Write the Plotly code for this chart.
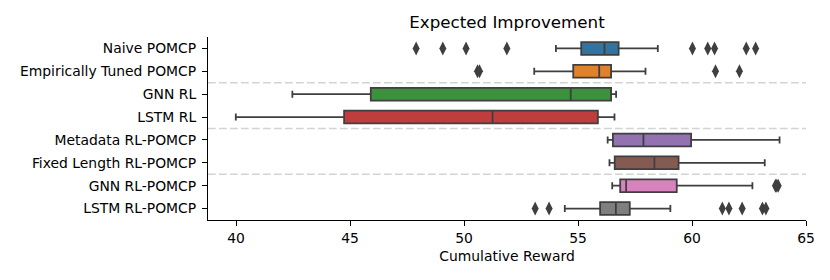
import plotly.graph_objects as go

categories = ["Naive POMCP", "Empirically Tuned POMCP", "GNN RL", "LSTM RL",
              "Metadata RL-POMCP", "Fixed Length RL-POMCP", "GNN RL-POMCP", "LSTM RL-POMCP"]
lower_whisker = [54.03, 53.08, 42.47, 39.99, 56.30, 56.38, 56.50, 54.42]
q1_values = [55.14, 54.79, 45.91, 44.74, 56.53, 56.61, 56.85, 55.97]
median_values = [56.16, 55.93, 54.68, 51.25, 57.87, 58.35, 57.11, 56.66]
q3_values = [56.78, 56.45, 56.45, 55.87, 59.96, 59.41, 59.33, 57.27]
upper_whisker = [58.50, 57.96, 56.67, 56.60, 63.84, 63.19, 62.65, 59.05]

outliers_naive = [47.90, 49.07, 50.09, 51.88, 60.02, 60.69, 60.99, 62.38, 62.79]
outliers_empirical = [50.59, 50.68, 61.03, 62.08]
outliers_gnn_rl = []
outliers_lstm_rl = []
outliers_metadata = []
outliers_fixed = []
outliers_gnn_rlpomcp = [63.66, 63.72, 63.78]
outliers_lstm_rlpomcp = [53.12, 53.73, 61.33, 61.62, 62.20, 63.09, 63.24]
all_outliers = [outliers_naive, outliers_empirical, outliers_gnn_rl, outliers_lstm_rl,
                outliers_metadata, outliers_fixed, outliers_gnn_rlpomcp, outliers_lstm_rlpomcp]

x_ticks = [40, 45, 50, 55, 60, 65]
separator_positions = [1.5, 3.5, 5.5]

colors = ["#3274a1", "#e1812c", "#3a923a", "#c03d3e", "#9372b2", "#845b53", "#d684bd", "#7f7f7f"]
edge = "#3f3f3f"
FONT = "DejaVu Sans"

# page body has an 8px default margin; compensate so the plot lands where the reference has it
W, H = 822, 272

fig = go.Figure()
for i, cat in enumerate(categories):
    fig.add_trace(go.Box(
        y=[cat], q1=[q1_values[i]], median=[median_values[i]], q3=[q3_values[i]],
        lowerfence=[lower_whisker[i]], upperfence=[upper_whisker[i]],
        orientation="h", fillcolor=colors[i], line=dict(color=edge, width=1.8),
        width=0.56, whiskerwidth=0.55, boxpoints=False, showlegend=False,
    ))
    if all_outliers[i]:
        fig.add_trace(go.Scatter(
            x=all_outliers[i], y=[cat] * len(all_outliers[i]), mode="markers",
            marker=dict(symbol="diamond-tall", size=10, color=edge, line=dict(width=0)),
            showlegend=False,
        ))

for yp in separator_positions:
    fig.add_shape(type="line", xref="paper", x0=0, x1=1, yref="y", y0=yp, y1=yp,
                  line=dict(color="#d3d3d3", width=1.6, dash="7.7px,3.3px"), layer="below")

fig.update_layout(
    width=W, height=H,
    margin=dict(l=200, r=24, t=29, b=60),
    plot_bgcolor="white", paper_bgcolor="white",
    font=dict(family=FONT, size=13.9, color="black"),
    title=dict(text="Expected Improvement", x=0.5, xref="paper", xanchor="center",
               y=1 - 14 / H, yref="container", yanchor="middle",
               font=dict(family=FONT, size=16.7, color="black")),
    boxmode="overlay",
)
fig.update_xaxes(
    range=[38.77, 65.0], tickvals=x_ticks, showgrid=False, zeroline=False,
    showline=True, linecolor="black", linewidth=1.1,
    ticks="outside", ticklen=5, tickwidth=1.1, tickcolor="black",
    tickfont=dict(family=FONT, size=13.9, color="black"),
    title=dict(text="Cumulative Reward", standoff=6,
               font=dict(family=FONT, size=13.9, color="black")),
)
fig.update_yaxes(
    type="category", categoryorder="array", categoryarray=categories,
    range=[7.5, -0.5], showgrid=False, zeroline=False,
    showline=True, linecolor="black", linewidth=1.1,
    ticks="outside", ticklen=5, tickwidth=1.1, tickcolor="black",
    ticklabelstandoff=3,
    tickfont=dict(family=FONT, size=13.9, color="black"),
)

fig.write_html("out.html")
